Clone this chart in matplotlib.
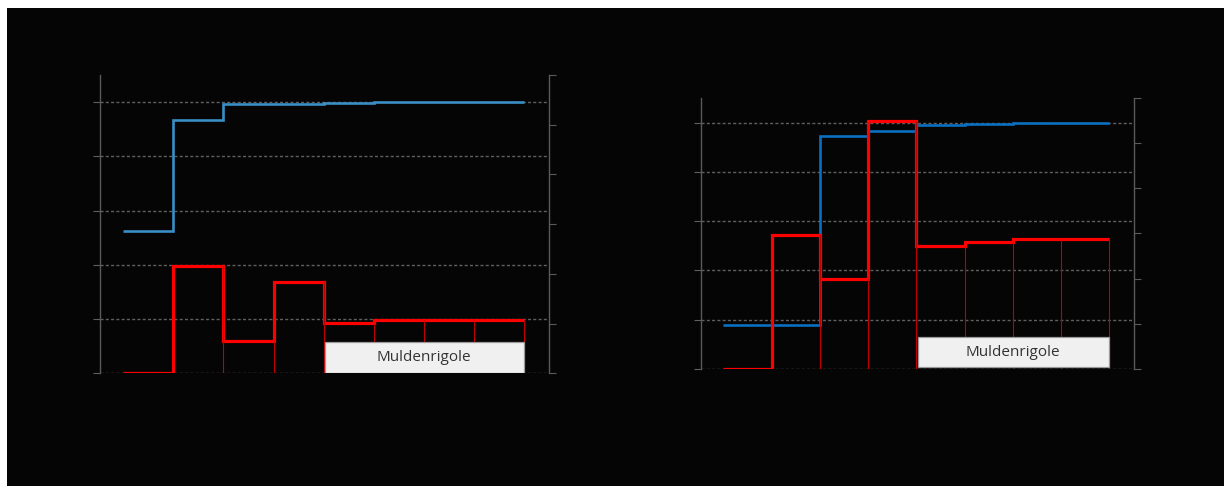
import numpy as np
import matplotlib.pyplot as plt
import matplotlib.transforms as mtransforms
from matplotlib.patches import Rectangle

# Klassengrenzen (9 Kanten -> 8 Klassen)
kanten = np.arange(9)

# Linkes Diagramm
links_summe = [52.6, 93.5, 99.4, 99.4, 99.8, 100.0, 100.0, 100.0]   # kumuliert, linke Achse [%]
links_anteil = [0.0, 10.8, 3.25, 9.2, 5.05, 5.35, 5.35, 5.35]        # rechte Achse

# Rechtes Diagramm
rechts_summe = [17.8, 17.8, 94.7, 96.7, 99.2, 99.6, 100.0, 100.0]
rechts_anteil = [0.0, 14.8, 10.0, 27.5, 13.65, 14.05, 14.4, 14.4]

beschriftung = 'Muldenrigole'

hintergrund = '#050505'
gitter = '#5f5f5f'
achse = '#5a5a5a'

fig = plt.figure(figsize=(12.25, 4.86), dpi=100, facecolor='white')
fig.patches.append(Rectangle((7 / 1225, 0), 1217 / 1225, 478 / 486,
                             transform=fig.transFigure, facecolor=hintergrund,
                             edgecolor='none', zorder=-10))


def diagramm(pos, xlim, summe, anteil, blau, box_y):
    ax = fig.add_axes(pos)
    ax.set_facecolor('none')
    ax.set_xlim(*xlim)
    ax.set_ylim(0, 110)
    ax.set_yticks(np.arange(0, 101, 20))
    ax.set_xticks([])
    ax.grid(axis='y', color=gitter, linestyle=(0, (2.2, 1.6)), linewidth=1.0)
    ax.set_axisbelow(True)
    for s in ['top', 'bottom', 'right']:
        ax.spines[s].set_visible(False)
    ax.spines['left'].set_color(achse)
    ax.spines['left'].set_linewidth(1.0)
    ax.tick_params(axis='y', length=5, color=gitter, labelleft=False)
    ax.stairs(summe, kanten, baseline=None, color=blau, linewidth=1.9)

    ax2 = ax.twinx()
    ax2.set_ylim(0, 30)
    ax2.set_yticks(np.arange(0, 31, 5))
    for s in ['top', 'bottom', 'left']:
        ax2.spines[s].set_visible(False)
    ax2.spines['right'].set_color(achse)
    ax2.spines['right'].set_linewidth(1.0)
    ax2.tick_params(axis='y', length=5, color=achse, labelright=False)

    # dünne Trennlinien der Klassen
    ax2.vlines(kanten[1:], 0, anteil, color='#c00000', linewidth=0.8)
    ax2.stairs(anteil, kanten, baseline=None, color='#ff0000', linewidth=2.3)

    # Beschriftungsfeld unten rechts
    trans = mtransforms.blended_transform_factory(ax2.transData, ax2.transAxes)
    ax2.add_patch(Rectangle((kanten[4] + 0.03, box_y[0]), kanten[8] - kanten[4] - 0.03,
                            box_y[1] - box_y[0], transform=trans,
                            facecolor='#f0f0f0', edgecolor='#9a9a9a', linewidth=0.9,
                            zorder=5))
    ax2.text((kanten[4] + kanten[8]) / 2, (box_y[0] + box_y[1]) / 2, beschriftung,
             transform=trans, ha='center', va='center', fontsize=11,
             family='Open Sans', color='#333333', zorder=6)
    return ax, ax2


diagramm([99.5 / 1225, 112.7 / 486, 449 / 1225, 298.3 / 486], (-0.475, 8.49),
         links_summe, links_anteil, '#3a8dc5', (0.002, 0.106))
diagramm([700.7 / 1225, 117.3 / 486, 432.8 / 1225, 270.4 / 486], (-0.47, 8.5),
         rechts_summe, rechts_anteil, '#0a6fc0', (0.005, 0.116))

fig.savefig('out.png', dpi=100, facecolor=fig.get_facecolor())
